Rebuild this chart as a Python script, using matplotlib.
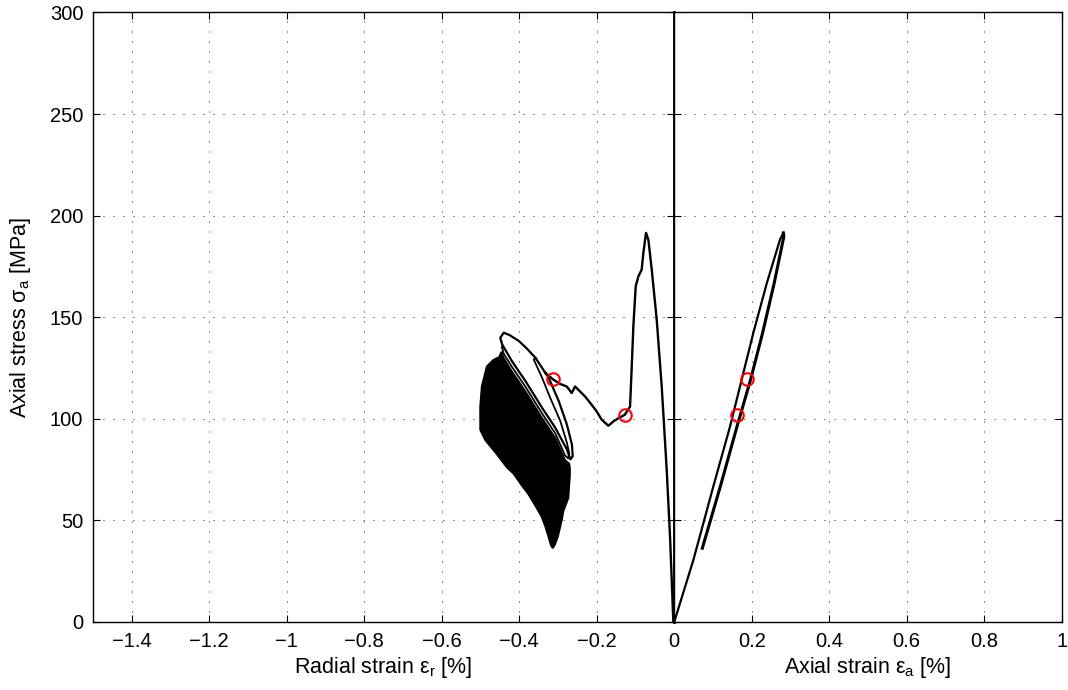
import numpy as np
import matplotlib
matplotlib.use("Agg")
import matplotlib.pyplot as plt
from matplotlib.ticker import FixedLocator, FuncFormatter

plt.rcParams["font.family"] = ["Liberation Sans", "DejaVu Sans"]
plt.rcParams["mathtext.fontset"] = "custom"
plt.rcParams["mathtext.rm"] = "Liberation Sans"
plt.rcParams["mathtext.it"] = "Liberation Sans:italic"

# ---- radial strain side (%), stress (MPa) ----
# first loading up to peak, post-peak drop with wiggles
rad_x = [0.0, -0.0023, -0.0108, -0.0194, -0.0323, -0.0452, -0.058, -0.0668, -0.0728,
         -0.0797, -0.084, -0.0926, -0.0994, -0.1055, -0.110, -0.114, -0.1275, -0.144,
         -0.157, -0.170, -0.187, -0.200, -0.213, -0.2302, -0.2474, -0.256, -0.2645,
         -0.2774, -0.2947, -0.3128, -0.333]
rad_y = [0.0, 0.0, 42.0, 74.9, 115.9, 148.8, 173.4, 188.2, 191.5,
         181.6, 173.4, 170.1, 165.2, 145.5, 124.1, 106.0, 102.0, 100.3,
         98.7, 96.6, 99.5, 103.6, 106.9, 111.0, 114.3, 115.9, 112.7,
         115.9, 117.2, 119.4, 122.7]

# outer unload/reload loop
loopA_x = [-0.333, -0.358, -0.380, -0.401, -0.425, -0.440, -0.449, -0.444, -0.419,
           -0.384, -0.341, -0.307, -0.277, -0.268, -0.262, -0.264, -0.277, -0.298,
           -0.324, -0.333]
loopA_y = [122.7, 130.0, 134.5, 138.3, 141.2, 142.4, 139.9, 136.6, 128.4,
           118.6, 105.4, 95.6, 84.9, 80.0, 81.6, 87.3, 97.2, 108.7,
           120.2, 122.7]

# second, smaller loop inside the first
loopB_x = [-0.358, -0.3626, -0.341, -0.320, -0.294, -0.277, -0.271, -0.274, -0.282,
           -0.307, -0.341, -0.384, -0.419, -0.440, -0.445]
loopB_y = [130.0, 129.2, 120.2, 110.3, 98.9, 88.2, 83.0, 80.5, 82.0,
           92.8, 102.6, 115.8, 125.6, 132.0, 135.5]

# outline of the dense block of cyclic loops
fill_x = [-0.446, -0.452, -0.467, -0.484, -0.497, -0.501, -0.501, -0.488, -0.460,
          -0.432, -0.415, -0.395, -0.377, -0.355, -0.343, -0.333, -0.325, -0.318,
          -0.3135, -0.308, -0.300, -0.295, -0.289, -0.286, -0.279, -0.273, -0.271,
          -0.269, -0.269, -0.271, -0.282, -0.307, -0.341, -0.384, -0.419, -0.440]
fill_y = [133.0, 130.5, 129.0, 125.8, 115.9, 106.0, 94.6, 89.5, 83.0,
          76.0, 73.0, 67.5, 63.0, 56.0, 52.0, 47.0, 42.0, 37.5,
          36.3, 37.9, 42.0, 46.0, 51.0, 54.5, 58.0, 61.0, 66.7,
          72.0, 76.0, 78.0, 79.8, 90.6, 100.4, 113.6, 123.4, 130.0]

# ---- axial strain side ----
ax1_x = [0.0, 0.0494, 0.1009, 0.144, 0.174, 0.204, 0.239, 0.273, 0.2816]
ax1_y = [0.0, 30.5, 66.7, 96.2, 119.2, 142.2, 166.8, 188.2, 191.5]
ax2_x = [0.2816, 0.283, 0.258, 0.228, 0.197, 0.162, 0.119, 0.0725]
ax2_y = [191.5, 189.8, 166.8, 142.2, 119.2, 96.2, 66.7, 36.3]

# marked points
mark_stress = [119.4, 101.8]
mark_radial = [-0.3128, -0.1275]
mark_axial = [0.187, 0.163]


def tick_fmt(v, pos):
    v = round(v, 3)
    if abs(v) < 1e-9:
        v = 0.0
    return ("%g" % v).replace("-", "\u2212")


fig = plt.figure(figsize=(10.68, 6.9), dpi=100)
ax_l = fig.add_axes([0.0871, 0.0986, 0.5442, 0.8833])
ax_r = fig.add_axes([0.6313, 0.0986, 0.3628, 0.8833])

grid_kw = dict(color="k", lw=0.6, ls=(0, (1.2, 10.8)))

for ax in (ax_l, ax_r):
    ax.set_ylim(0, 300)
    ax.yaxis.set_major_locator(FixedLocator(np.arange(0, 301, 50)))
    ax.tick_params(direction="in", length=5, width=0.8, labelsize=14.5,
                   top=True, right=True, pad=7)
    for s in ax.spines.values():
        s.set_linewidth(1.0)
    ax.grid(True, **grid_kw)
    ax.xaxis.set_major_formatter(FuncFormatter(tick_fmt))
    ax.yaxis.set_major_formatter(FuncFormatter(tick_fmt))

ax_l.set_xlim(-1.5, 0)
ax_l.xaxis.set_major_locator(FixedLocator(np.arange(-1.4, 0.01, 0.2)))
ax_r.set_xlim(0, 1)
ax_r.xaxis.set_major_locator(FixedLocator(np.arange(0.2, 1.01, 0.2)))
ax_r.tick_params(labelleft=False)

ax_l.set_ylabel(r"Axial stress σ$_\mathregular{a}$ [MPa]", fontsize=15.5, labelpad=12)
ax_l.set_xlabel(r"Radial strain ε$_\mathregular{r}$ [%]", fontsize=15.5, labelpad=3)
ax_r.set_xlabel(r"Axial strain ε$_\mathregular{a}$ [%]", fontsize=15.5, labelpad=3)

# radial side
ax_l.fill(fill_x, fill_y, color="k", lw=1.2)
ax_l.plot(loopB_x, loopB_y, color="k", lw=1.3)
ax_l.plot(loopA_x, loopA_y, color="k", lw=1.6)
ax_l.plot(rad_x, rad_y, color="k", lw=1.7)
ax_l.plot(mark_radial, mark_stress, "o", ms=9, mfc="none", mec="r", mew=1.5)
ax_l.axvline(0, color="k", lw=2, clip_on=False)

# axial side
ax_r.plot(ax1_x, ax1_y, color="k", lw=1.6)
ax_r.plot(ax2_x, ax2_y, color="k", lw=2.2)
ax_r.plot(mark_axial, mark_stress, "o", ms=9, mfc="none", mec="r", mew=1.5)

fig.savefig("out.png", dpi=100)
